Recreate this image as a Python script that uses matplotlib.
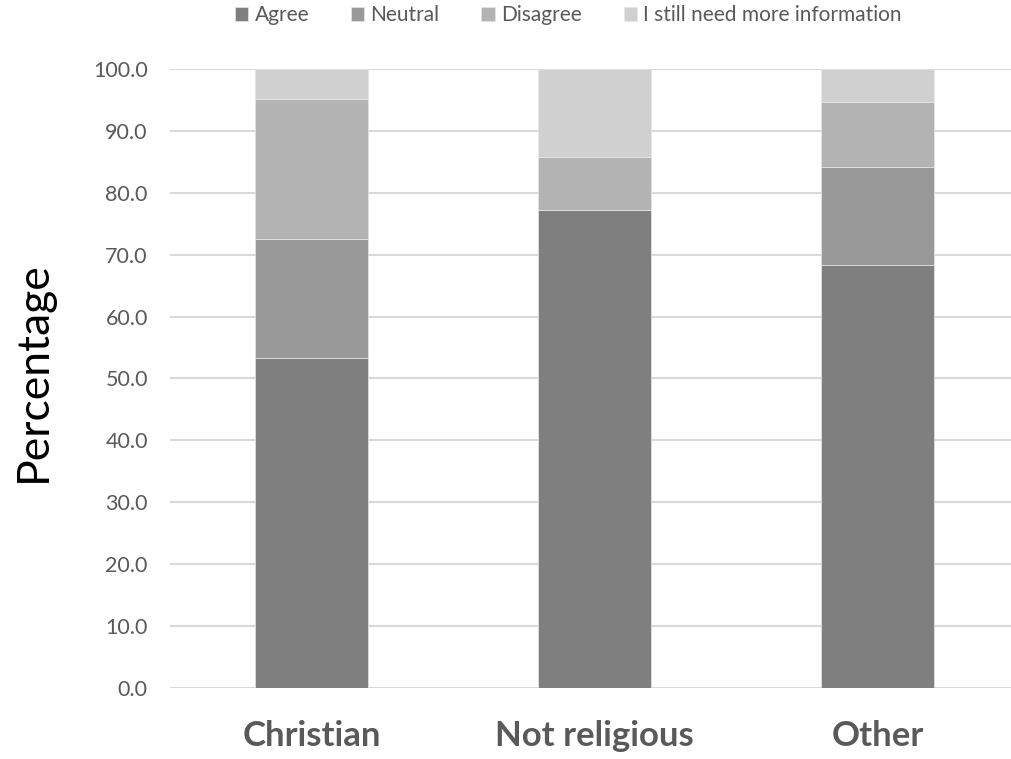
import numpy as np
import matplotlib.pyplot as plt

plt.rcParams['font.family'] = ['Lato', 'DejaVu Sans']

categories = ["Christian", "Not religious", "Other"]
agree = [53.3, 77.2, 68.4]
neutral = [19.3, 0.0, 15.8]
disagree = [22.6, 8.6, 10.5]
more_info = [4.8, 14.2, 5.3]

series = [("Agree", agree, "#7f7f7f"),
          ("Neutral", neutral, "#999999"),
          ("Disagree", disagree, "#b3b3b3"),
          ("I still need more information", more_info, "#d0d0d0")]

txt = "#595959"

fig = plt.figure(figsize=(10.12, 7.59), dpi=100)
ax = fig.add_axes([0.168, 0.0936, 0.832, 0.8156])

x = np.arange(len(categories))
bottom = np.zeros(len(categories))
for name, vals, col in series:
    ax.bar(x, vals, 0.4, bottom=bottom, color=col, label=name,
           edgecolor="#e6e6e6", linewidth=0.5, zorder=3)
    bottom += np.array(vals)

ax.set_xlim(-0.5, 2.475)
ax.set_ylim(0, 100)
ax.set_yticks(np.arange(0, 101, 10))
ax.set_yticklabels(["%.1f" % v for v in np.arange(0, 101, 10)])
ax.set_xticks(x)
ax.set_xticklabels(categories, fontsize=25, fontweight="bold", color=txt)
ax.tick_params(axis="y", labelsize=15.5, labelcolor=txt, length=0, pad=16)
ax.tick_params(axis="x", length=0, pad=23)
ax.grid(axis="y", color="#d9d9d9", linewidth=1.5, zorder=0)
for s in ax.spines.values():
    s.set_visible(False)

fig.text(0.033, 0.51, "Percentage", rotation=90, fontsize=32, color="#000000",
         ha="center", va="center")

leg = ax.legend(loc="upper center", bbox_to_anchor=(0.473, 1.133), ncol=4,
                frameon=False, fontsize=15, handlelength=0.65, handleheight=0.65,
                handletextpad=0.3, columnspacing=2.0)
for t in leg.get_texts():
    t.set_color(txt)

fig.savefig("out.png", dpi=100)
